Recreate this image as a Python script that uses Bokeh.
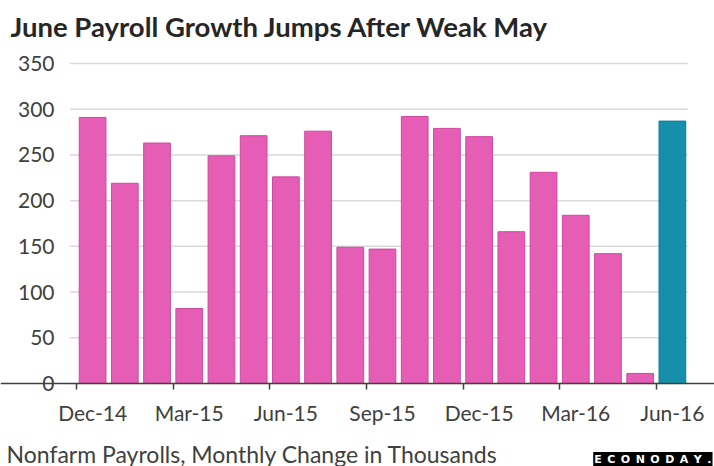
from bokeh.plotting import figure
from bokeh.models import FixedTicker, Range1d, ColumnDataSource, Label
from bokeh.embed import file_html
from bokeh.resources import INLINE

months = ["Dec-14", "Jan-15", "Feb-15", "Mar-15", "Apr-15", "May-15", "Jun-15",
          "Jul-15", "Aug-15", "Sep-15", "Oct-15", "Nov-15", "Dec-15", "Jan-16",
          "Feb-16", "Mar-16", "Apr-16", "May-16", "Jun-16"]
payrolls = [291, 219, 263, 82, 249, 271, 226, 276, 149, 147, 292, 279, 270,
            166, 231, 184, 142, 11, 287]
y_ticks = [0, 50, 100, 150, 200, 250, 300, 350]

title_text = "June Payroll Growth Jumps After Weak May"
caption_text = "Nonfarm Payrolls, Monthly Change in Thousands"
logo_text = "\u2002".join("ECONODAY.")

PINK = "#E65DB5"
PINK_EDGE = "#CF4A9E"
TEAL = "#1690AA"
TEAL_EDGE = "#107A92"
TXT = "#404040"
FONT = "Lato"

n = len(months)
xs = list(range(n))
fills = [PINK] * (n - 1) + [TEAL]
edges = [PINK_EDGE] * (n - 1) + [TEAL_EDGE]
src = ColumnDataSource(dict(x=xs, top=payrolls, fill=fills, edge=edges))

# canvas geometry (pixels) -> ranges so that the plotting area sits where the
# reference has it, while titles and notes live in the same frame
W, H = 714, 466
left_px, right_px = 76, 688          # x of first / last category edges
zero_px, top_px = 383, 63            # y of value 0 / value 350 (from top)
x0, x1 = -0.5, n - 0.5
ppx = (right_px - left_px) / (x1 - x0)
ppy = (zero_px - top_px) / y_ticks[-1]
x_range = Range1d(x0 - left_px / ppx, x1 + (W - right_px) / ppx)
y_range = Range1d(-(H - zero_px) / ppy, y_ticks[-1] + top_px / ppy)

p = figure(width=W, height=H, output_backend="svg", toolbar_location=None,
           x_range=x_range, y_range=y_range,
           min_border_left=0, min_border_right=0, min_border_top=0, min_border_bottom=0)
p.outline_line_color = None
p.background_fill_color = "white"
p.xgrid.grid_line_color = None
p.ygrid.grid_line_color = None

# horizontal gridlines
p.segment(x0=[x0 - 0.2] * len(y_ticks), x1=[x1 - 0.03] * len(y_ticks),
          y0=y_ticks, y1=y_ticks, line_color="#D9D9D9", line_width=1.5)

p.vbar(x="x", top="top", width=0.83, bottom=0, fill_color="fill", line_color="edge",
       line_width=1, source=src)

xa = p.xaxis[0]
xa.fixed_location = 0
xa.ticker = FixedTicker(ticks=list(range(0, n, 3)),
                        minor_ticks=[i - 0.5 for i in range(0, n, 3)])
xa.major_label_overrides = {i: months[i] for i in range(0, n, 3)}
xa.major_tick_line_color = None
xa.major_tick_out = 0
xa.major_tick_in = 0
xa.minor_tick_line_color = TXT
xa.minor_tick_out = 6
xa.minor_tick_in = 0
xa.minor_tick_line_width = 1.5
xa.axis_line_color = TXT
xa.axis_line_width = 1.5
xa.major_label_text_font = FONT
xa.major_label_text_font_size = "21px"
xa.major_label_text_color = TXT
xa.major_label_standoff = 10

ya = p.yaxis[0]
ya.fixed_location = x0
ya.ticker = FixedTicker(ticks=y_ticks)
ya.axis_line_color = None
ya.major_tick_line_color = None
ya.minor_tick_line_color = None
ya.major_tick_out = 0
ya.major_tick_in = 0
ya.major_label_text_font = FONT
ya.major_label_text_font_size = "21px"
ya.major_label_text_color = TXT
ya.major_label_standoff = 22

p.add_layout(Label(x=x0, y=y_ticks[-1], x_offset=-66, y_offset=37, text=title_text,
                   text_font=FONT, text_font_size="27.5px", text_font_style="bold",
                   text_color="#262626", text_align="left", text_baseline="middle"))
p.add_layout(Label(x=x0, y=0, x_offset=-70, y_offset=-70, text=caption_text,
                   text_font=FONT, text_font_size="23px", text_color=TXT,
                   text_align="left", text_baseline="middle"))
p.add_layout(Label(x=x1, y=0, x_offset=24, y_offset=-76, text=logo_text,
                   text_font="DejaVu Sans", text_font_size="11px", text_font_style="bold",
                   text_color="white", text_align="right", text_baseline="middle",
                   background_fill_color="black", padding=1))

open("out.html", "w").write(file_html(p, INLINE))
